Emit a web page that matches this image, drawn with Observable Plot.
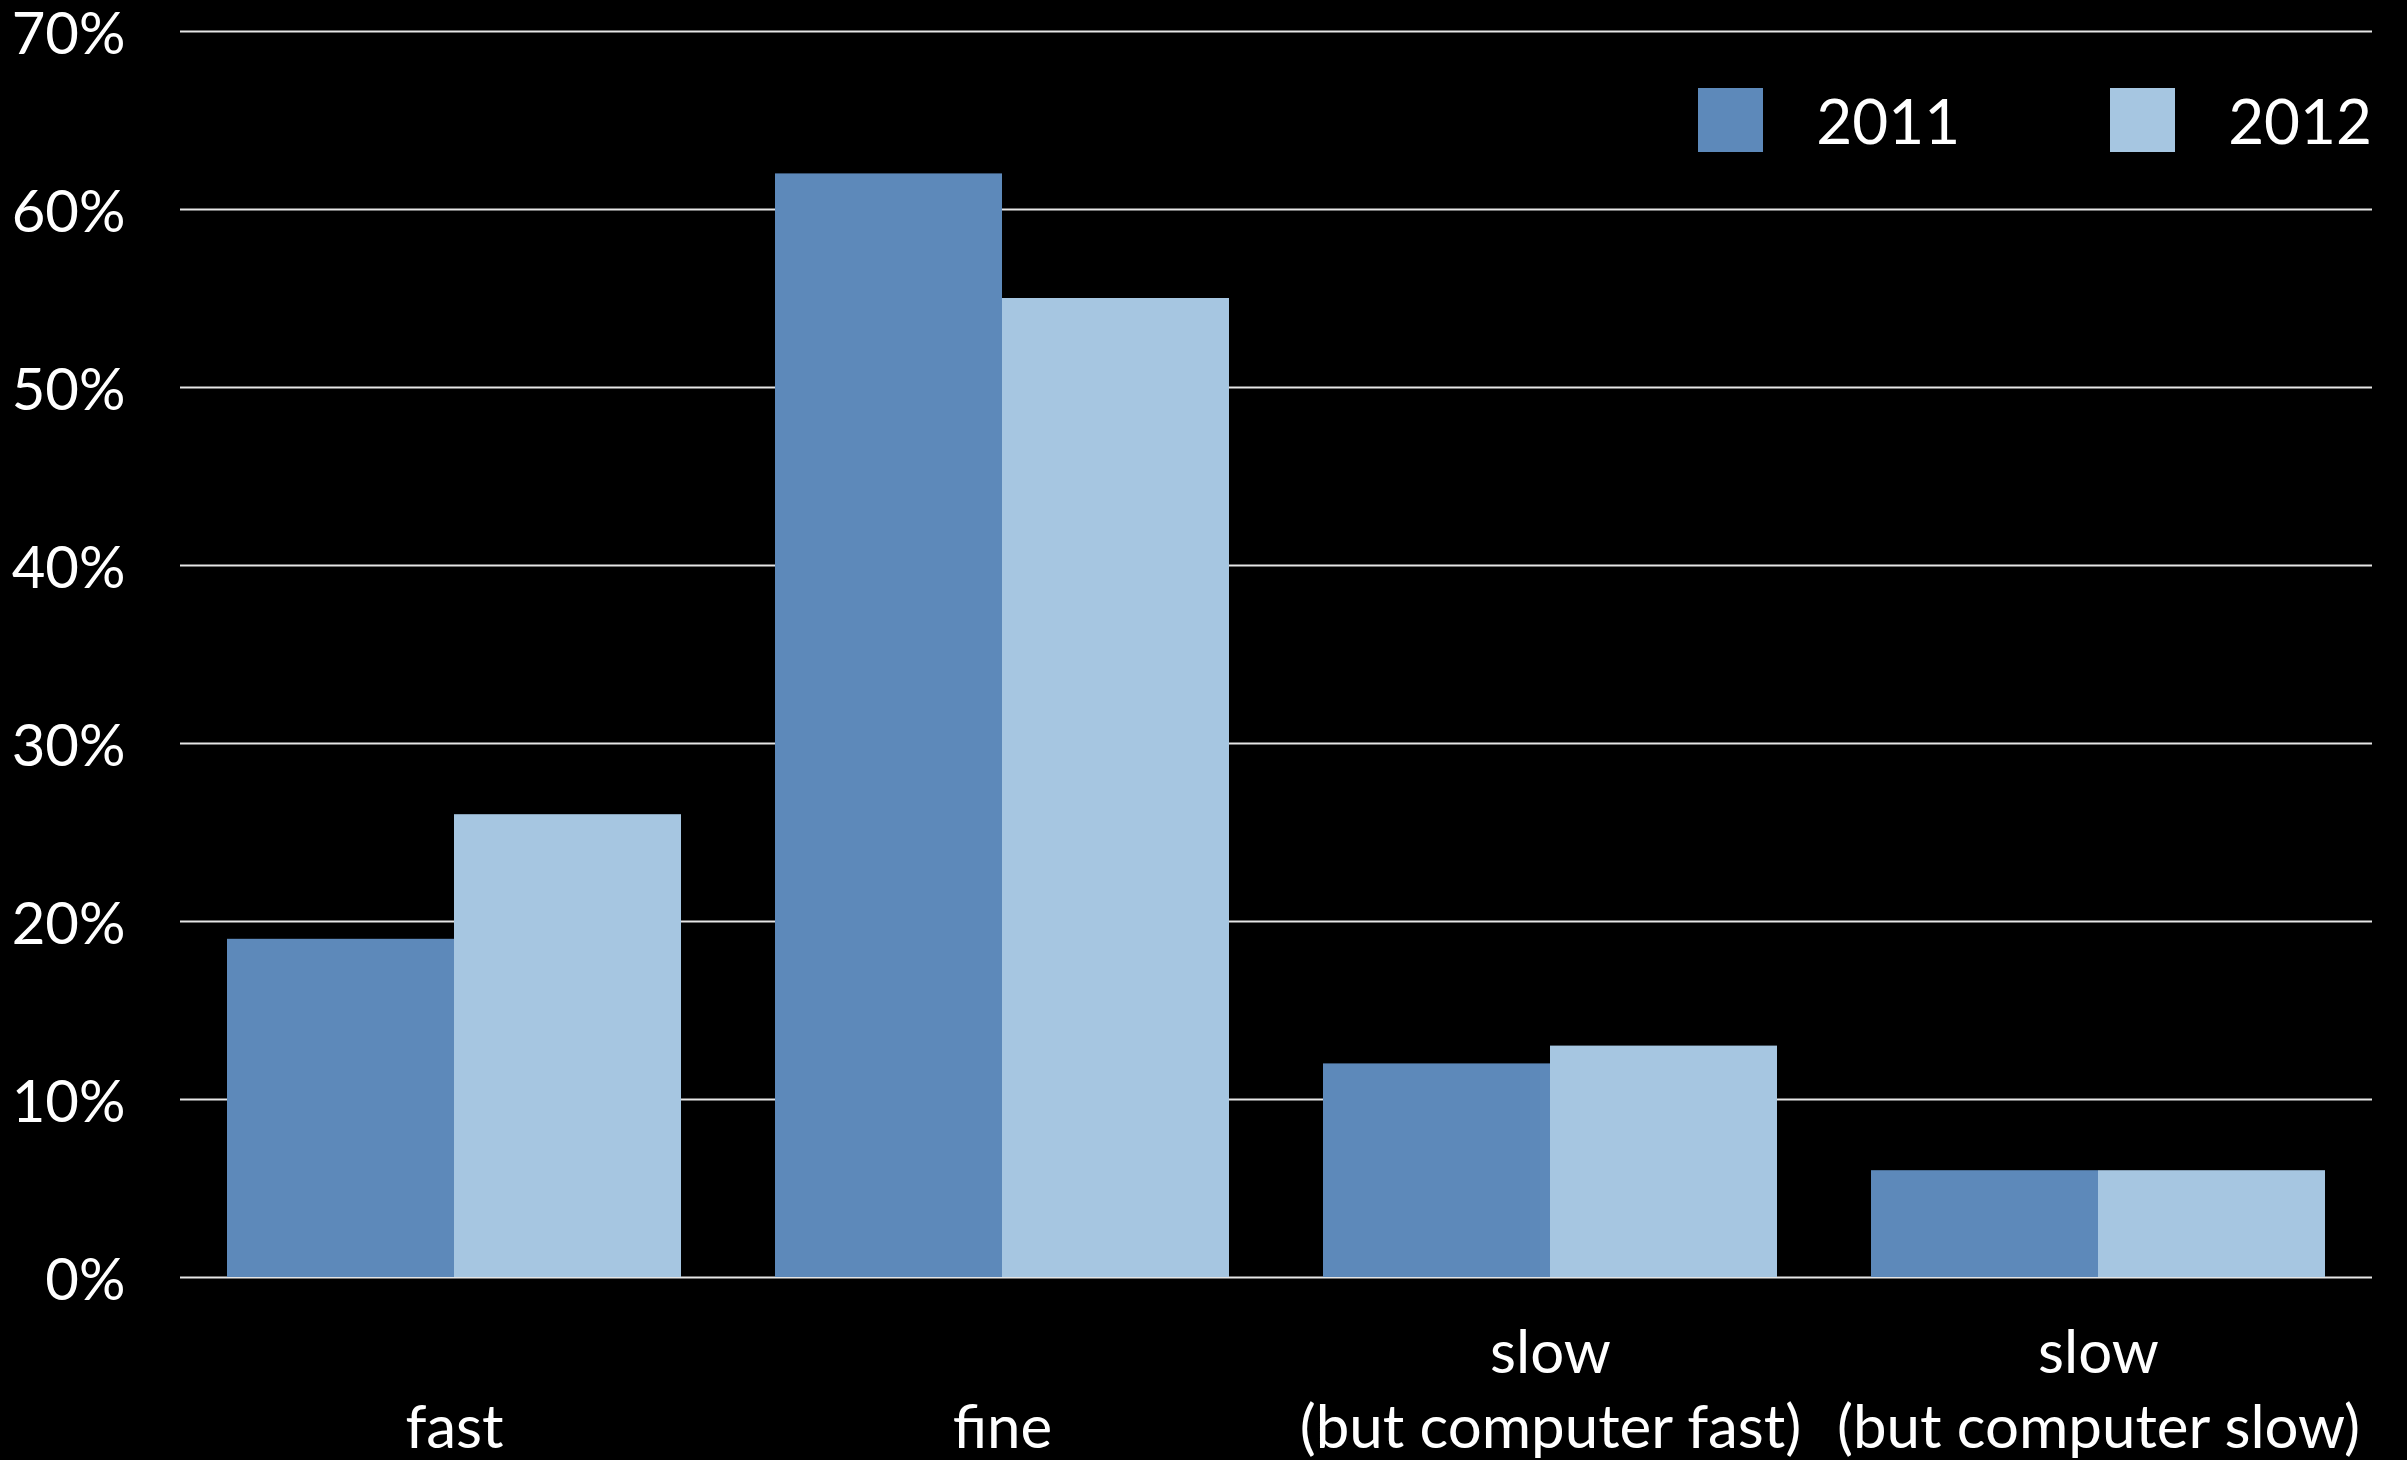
<!DOCTYPE html>
<html><head><meta charset="utf-8">
<script src="https://cdn.jsdelivr.net/npm/d3@7"></script>
<script src="https://cdn.jsdelivr.net/npm/@observablehq/plot@0.6"></script>
<style>
html,body{margin:0;padding:0;background:#000;}
#chart{position:relative;width:2407px;height:1460px;}
#legend{position:absolute;right:35px;top:83px;display:flex;align-items:center;font-family:Lato,sans-serif;font-size:62px;color:#fff;}
.item{display:flex;align-items:center;margin-left:150px;}
.item:first-child{margin-left:0;}
.sw{width:65px;height:64px;margin-right:53px;}
</style></head><body><div id="chart"><div id="legend"></div></div>
<script>
const categories = ["fast", "fine", "slow\n(but computer fast)", "slow\n(but computer slow)"];
const years = ["2011", "2012"];
const values2011 = [19, 62, 12, 6];
const values2012 = [26, 55, 13, 6];
const colors = ["#5d89ba", "#a6c6e1"];
const yTicks = [0, 10, 20, 30, 40, 50, 60, 70];

const data = categories.flatMap((c, i) => [
  {category: c, year: years[0], value: values2011[i]},
  {category: c, year: years[1], value: values2012[i]}
]);

const plot = Plot.plot({
  width: 2407, height: 1460,
  marginLeft: 178, marginRight: 34, marginTop: 31, marginBottom: 183,
  style: {background: "#000", color: "#fff", fontFamily: "Lato, sans-serif", fontSize: "60px"},
  fx: {domain: categories, padding: 0, label: null},
  x: {domain: years, paddingInner: 0, paddingOuter: 0.205, axis: null},
  y: {domain: [0, 70], label: null},
  color: {domain: years, range: colors},
  marks: [
    Plot.ruleY(yTicks, {y: d => d, stroke: "#e6e6e6", strokeWidth: 2}),
    Plot.axisY({ticks: yTicks, tickFormat: d => d + "%", tickSize: 0, tickPadding: 55, fontSize: 58, dy: 4, label: null}),
    Plot.barY(data, {fx: "category", x: "year", y: "value", fill: "year", inset: 0}),
    Plot.axisFx({anchor: "bottom", tickSize: 0, tickPadding: 170, lineAnchor: "bottom", fontSize: 60, lineHeight: 1.25, label: null})
  ]
});
document.getElementById("chart").prepend(plot);

const legend = document.getElementById("legend");
years.forEach((y, i) => {
  const item = document.createElement("div");
  item.className = "item";
  const sw = document.createElement("div");
  sw.className = "sw";
  sw.style.background = colors[i];
  const t = document.createElement("span");
  t.textContent = y;
  item.append(sw, t);
  legend.append(item);
});
</script></body></html>
